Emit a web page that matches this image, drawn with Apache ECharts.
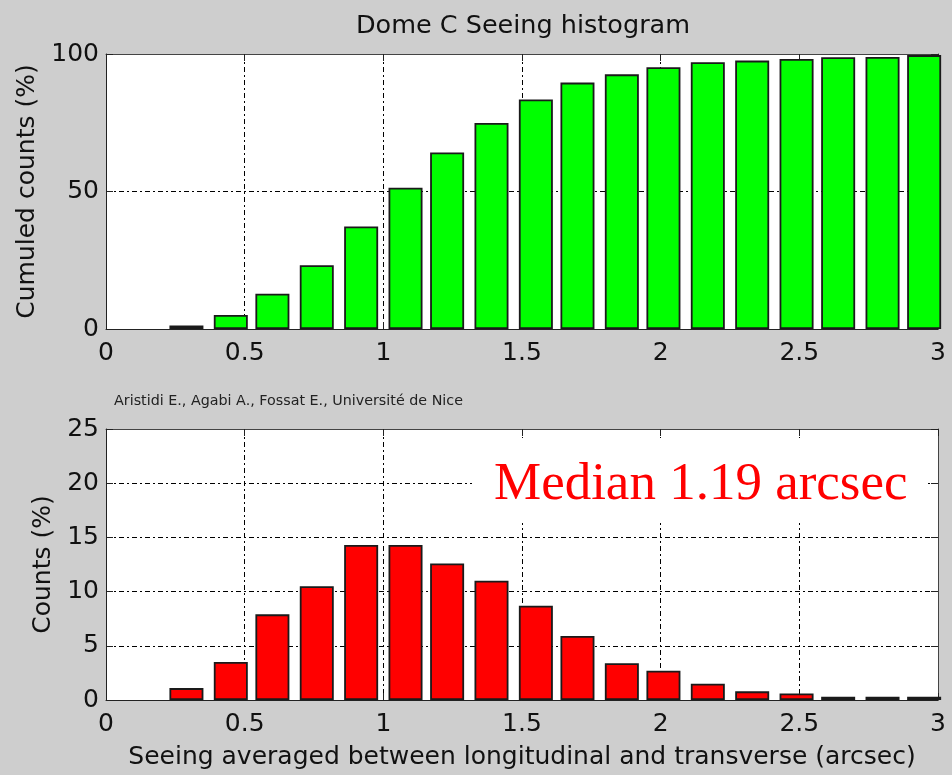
<!DOCTYPE html>
<html>
<head>
<meta charset="utf-8">
<script src="https://cdn.jsdelivr.net/npm/echarts@6/dist/echarts.min.js"></script>
<style>
html,body{margin:0;padding:0;background:#cecece;}
#chart{width:952px;height:775px;}
</style>
</head>
<body>
<div id="chart"></div>
<script>
// Bin centres (arcsec)
const binCenters = [0.29,0.45,0.60,0.76,0.92,1.08,1.23,1.39,1.55,1.70,1.86,2.01,2.17,2.33,2.49,2.64,2.80,2.95];
// Cumulated counts (%) – top panel
const cumulative = [1.3,5.1,12.8,23.2,37.3,51.4,64.2,74.9,83.5,89.6,92.6,95.2,97.0,97.6,98.2,98.8,98.9,99.6];
// Counts (%) – bottom panel
const counts = [1.1,3.5,7.9,10.5,14.3,14.3,12.6,11.0,8.7,5.9,3.4,2.7,1.5,0.8,0.6,0.3,0.3,0.3];
// Texts
const titleText = 'Dome C Seeing histogram';
const creditText = 'Aristidi E., Agabi A., Fossat E., Université de Nice';
const medianText = 'Median 1.19 arcsec';
const xName = 'Seeing averaged between longitudinal and transverse (arcsec)';
const yNameTop = 'Cumuled counts (%)';
const yNameBottom = 'Counts (%)';

const FONT = '"DejaVu Sans", "Liberation Sans", Arial, sans-serif';
const dash = [5,3,2,3];

function xLabel(v){ return String(v); }

const chart = echarts.init(document.getElementById('chart'), null, {renderer:'canvas'});

function mainX(gi, showName){
  return {
    type:'value', gridIndex:gi, min:0, max:3, interval:0.5, position:'bottom',
    axisLine:{show:true, onZero:false, lineStyle:{color:'#222', width:1}},
    axisTick:{show:true, inside:true, length:7, lineStyle:{color:'#222'}},
    axisLabel:{show:true, fontFamily:FONT, fontSize:25, color:'#111', margin:12, formatter:xLabel, hideOverlap:false},
    splitLine:{show:true, showMinLine:false, showMaxLine:false, lineStyle:{color:'#000', width:1, type:dash}},
    name: showName ? xName : '', nameLocation:'middle', nameGap:45,
    nameTextStyle:{fontFamily:FONT, fontSize:25, color:'#111'}
  };
}
function topX(gi){
  return {
    type:'value', gridIndex:gi, min:0, max:3, interval:0.5, position:'top',
    axisLine:{show:true, onZero:false, lineStyle:{color:'#444', width:1}},
    axisTick:{show:true, inside:true, length:7, lineStyle:{color:'#222'}},
    axisLabel:{show:false}, splitLine:{show:false}
  };
}
function mainY(gi, max, interval, name, gap){
  return {
    type:'value', gridIndex:gi, min:0, max:max, interval:interval, position:'left',
    axisLine:{show:true, onZero:false, lineStyle:{color:'#222', width:1}},
    axisTick:{show:true, inside:true, length:7, lineStyle:{color:'#222'}},
    axisLabel:{show:true, fontFamily:FONT, fontSize:25, color:'#111', margin:7, hideOverlap:false},
    splitLine:{show:true, showMinLine:false, showMaxLine:false, lineStyle:{color:'#000', width:1, type:dash}},
    name:name, nameLocation:'middle', nameGap:gap,
    nameTextStyle:{fontFamily:FONT, fontSize:25, color:'#111'}
  };
}
function rightY(gi, max, interval){
  return {
    type:'value', gridIndex:gi, min:0, max:max, interval:interval, position:'right',
    axisLine:{show:true, onZero:false, lineStyle:{color:'#444', width:1}},
    axisTick:{show:true, inside:true, length:7, lineStyle:{color:'#222'}},
    axisLabel:{show:false}, splitLine:{show:false}
  };
}

const option = {
  backgroundColor:'#cecece',
  animation:false,
  title:{
    text:titleText, left:518, top:8, textAlign:'center',
    textStyle:{fontFamily:FONT, fontSize:25.5, fontWeight:'normal', color:'#111'}
  },
  grid:[
    {left:106, right:14, top:54, height:275, show:true, backgroundColor:'#ffffff', borderWidth:0, outerBoundsMode:'none', containLabel:false},
    {left:106, right:14, top:429, height:271, show:true, backgroundColor:'#ffffff', borderWidth:0, outerBoundsMode:'none', containLabel:false}
  ],
  xAxis:[mainX(0,false), topX(0), mainX(1,true), topX(1)],
  yAxis:[mainY(0,100,50,yNameTop,58), rightY(0,100,50), mainY(1,25,5,yNameBottom,42), rightY(1,25,5)],
  series:[
    {
      type:'bar', xAxisIndex:0, yAxisIndex:0, barWidth:34, clip:true, z:3,
      itemStyle:{color:'#00ff00', borderColor:'#1a1a1a', borderWidth:1.8},
      data:binCenters.map((x,i)=>[x,cumulative[i]])
    },
    {
      type:'bar', xAxisIndex:2, yAxisIndex:2, barWidth:34, clip:true, z:3,
      itemStyle:{color:'#ff0000', borderColor:'#1a1a1a', borderWidth:1.8},
      data:binCenters.map((x,i)=>[x,counts[i]])
    }
  ],
  graphic:[
    {type:'text', left:114, top:394, z:5,
     style:{text:creditText, font:'14.3px "DejaVu Sans", sans-serif', fill:'#222'}},
    {type:'rect', shape:{x:472, y:438, width:456, height:85}, z:1,
     style:{fill:'#ffffff'}},
    {type:'text', left:494, top:459, z:5,
     style:{text:medianText, font:'53px "Liberation Serif", "Times New Roman", serif', fill:'#ff0000'}}
  ]
};
chart.setOption(option);
</script>
</body>
</html>
